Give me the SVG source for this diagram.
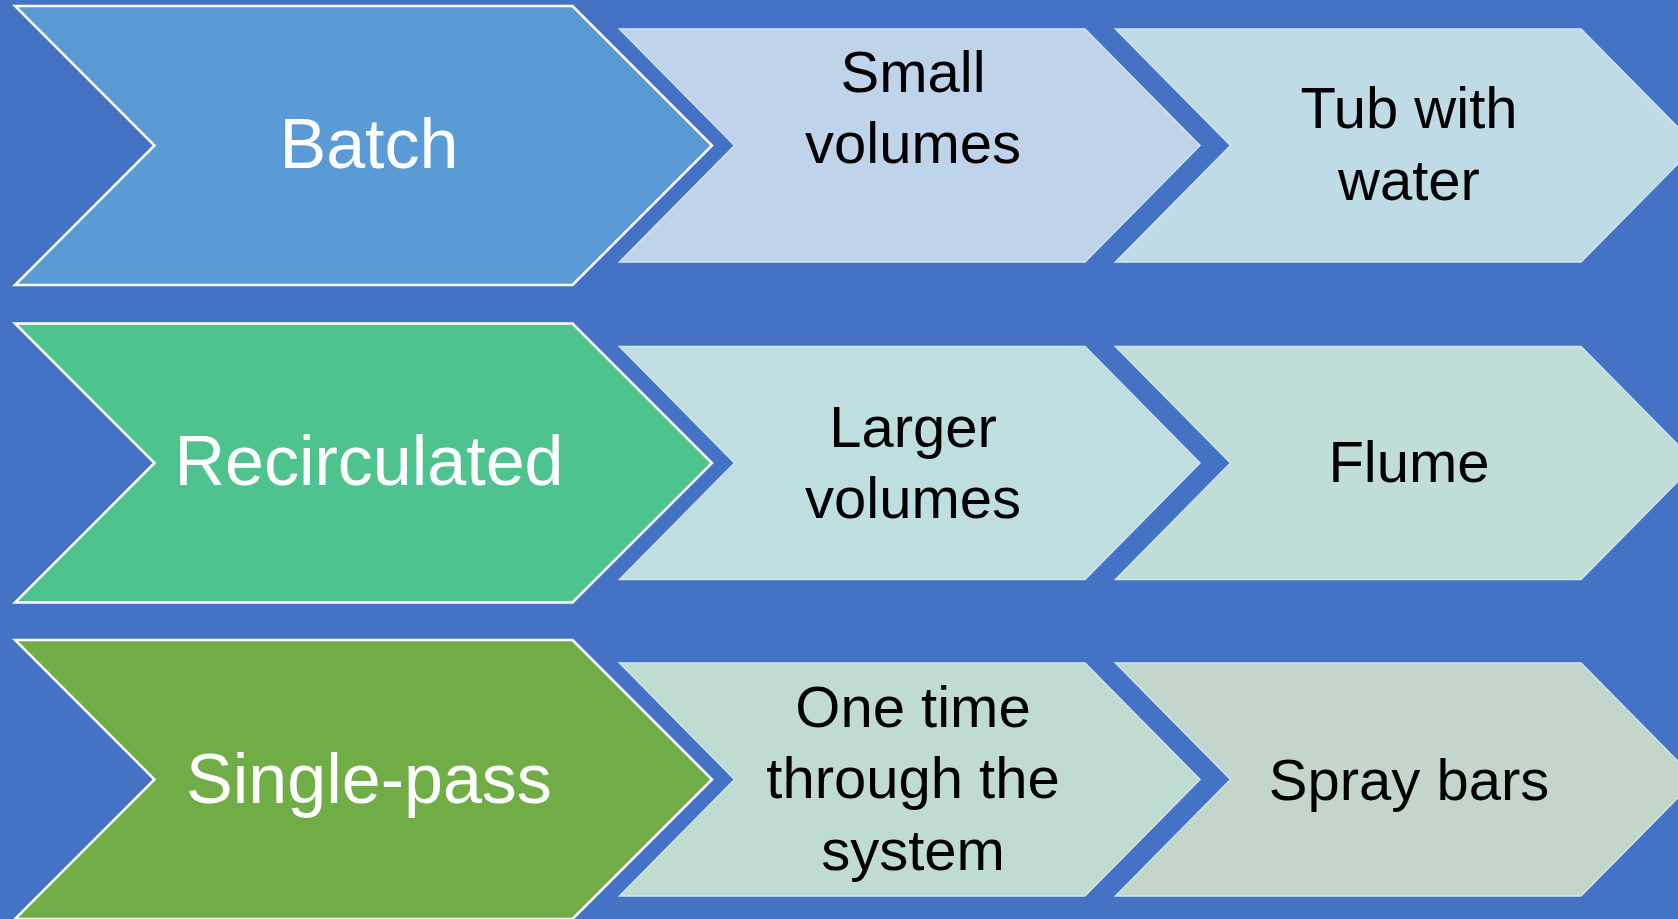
<svg xmlns="http://www.w3.org/2000/svg" width="1678" height="919" viewBox="0 0 1678 919">
  <defs>
    <style>
      .main { stroke: #FFFFFF; stroke-width: 2.5; stroke-linejoin: miter; }
      .sub { stroke: #D3E6EE; stroke-width: 1.5; stroke-linejoin: miter; opacity: 1; }
      .t1 { font-family: "Liberation Sans", Arial, sans-serif; font-size: 70px; fill: #FFFFFF; text-anchor: middle; }
      .t2 { font-family: "Liberation Sans", Arial, sans-serif; font-size: 58px; fill: #000000; text-anchor: middle; }
    </style>
    <polygon id="big" points="15,-139.5 572.5,-139.5 712,0 572.5,139.5 15,139.5 154.5,0"/>
    <polygon id="mid" points="619.5,-116.5 1085,-116.5 1200,0 1085,116.5 619.5,116.5 734.5,0"/>
    <polygon id="end" points="1115.5,-116.5 1581,-116.5 1696,0 1581,116.5 1115.5,116.5 1230.5,0"/>
  </defs>
  <rect x="0" y="0" width="1678" height="919" fill="#4472C4"/>

  <g id="connectors"></g>

  <!-- Row 1 -->
  <g id="batch" transform="translate(0,145.5)">
    <use href="#big" class="main" fill="#5B9BD5"/>
    <text class="t1" x="369" y="22.5">Batch</text>
  </g>
  <g id="small-volumes" transform="translate(0,145.5)">
    <use href="#mid" class="sub" fill="#BFD3EA"/>
    <text class="t2" x="913" y="-53.8">Small</text>
    <text class="t2" x="913" y="17.8">volumes</text>
  </g>
  <g id="tub-with-water" transform="translate(0,145.5)">
    <use href="#end" class="sub" fill="#BFDBE6"/>
    <text class="t2" x="1409" y="-17.2">Tub with</text>
    <text class="t2" x="1409" y="54.5">water</text>
  </g>

  <!-- Row 2 -->
  <g id="recirculated" transform="translate(0,463)">
    <use href="#big" class="main" fill="#4EC38E"/>
    <text class="t1" x="369" y="22">Recirculated</text>
  </g>
  <g id="larger-volumes" transform="translate(0,463)">
    <use href="#mid" class="sub" fill="#BFDEE0"/>
    <text class="t2" x="913" y="-16.3">Larger</text>
    <text class="t2" x="913" y="55.3">volumes</text>
  </g>
  <g id="flume" transform="translate(0,463)">
    <use href="#end" class="sub" fill="#C0DDD8"/>
    <text class="t2" x="1409" y="18.7">Flume</text>
  </g>

  <!-- Row 3 -->
  <g id="single-pass" transform="translate(0,779.5)">
    <use href="#big" class="main" fill="#70AD47"/>
    <text class="t1" x="369" y="23">Single-pass</text>
  </g>
  <g id="one-time" transform="translate(0,779.5)">
    <use href="#mid" class="sub" fill="#C0DBCF"/>
    <text class="t2" x="913" y="-52.8">One time</text>
    <text class="t2" x="913" y="18.8">through the</text>
    <text class="t2" x="913" y="90.5">system</text>
  </g>
  <g id="spray-bars" transform="translate(0,779.5)">
    <use href="#end" class="sub" fill="#C4D6CB"/>
    <text class="t2" x="1409" y="20.5">Spray bars</text>
  </g>
</svg>
